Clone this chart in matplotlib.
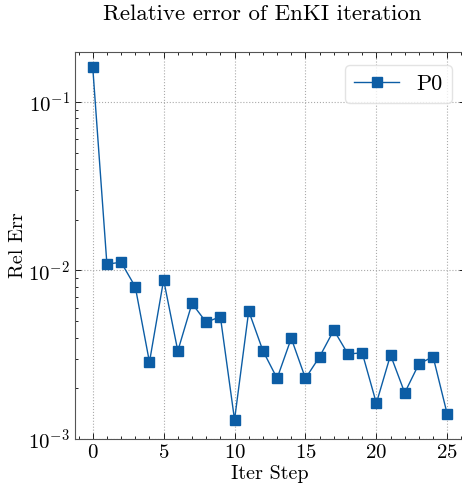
import numpy as np
import matplotlib
matplotlib.use("Agg")
import matplotlib.pyplot as plt
from matplotlib.ticker import MultipleLocator, LogLocator

plt.rcParams['font.family'] = 'serif'
plt.rcParams['font.serif'] = ['cmr10', 'DejaVu Serif']
plt.rcParams['mathtext.fontset'] = 'cm'
plt.rcParams['axes.formatter.use_mathtext'] = True
plt.rcParams['axes.unicode_minus'] = False

steps = np.arange(26)
rel_err = [0.161, 0.0109, 0.0112, 0.0080, 0.00286, 0.0088, 0.00333, 0.00638,
           0.00493, 0.00532, 0.00130, 0.00575, 0.00334, 0.00229, 0.00396, 0.00229,
           0.00308, 0.00443, 0.00319, 0.00325, 0.00163, 0.00315, 0.00188, 0.00279,
           0.00308, 0.00140]

fig = plt.figure(figsize=(4.62, 4.90), dpi=100)
ax = fig.add_axes([75/462, 51/490, 390/462, 387/490])

ax.plot(steps, rel_err, color='#0C5DA5', marker='s', markersize=6.5, lw=1.0, label='P0')
ax.set_yscale('log')
ax.set_ylim(1e-3, 0.198)
ax.set_xlim(-1.25, 26.25)

ax.xaxis.set_major_locator(MultipleLocator(5))
ax.xaxis.set_minor_locator(MultipleLocator(1))
ax.yaxis.set_minor_locator(LogLocator(base=10, subs=np.arange(2, 10)))
ax.tick_params(which='both', direction='in', top=True, right=True, labelsize=15)
ax.tick_params(which='major', length=4, width=0.6)
ax.tick_params(which='minor', length=2, width=0.6)
for sp in ax.spines.values():
    sp.set_linewidth(0.8)
    sp.set_color('#555555')

ax.grid(True, which='major', linestyle=':', color='#aaaaaa', linewidth=0.8)
ax.set_title('Relative error of EnKI iteration', fontsize=16.5, pad=23, x=0.48)
ax.set_xlabel('Iter Step', fontsize=14.5, labelpad=2)
ax.set_ylabel('Rel Err', fontsize=14.5)
ax.yaxis.set_label_coords(-0.122, 0.5)
ax.legend(loc='upper right', fontsize=16, fancybox=True, edgecolor='#dddddd',
          handlelength=2.0, borderaxespad=0.6)

fig.savefig('out.png', dpi=100)
